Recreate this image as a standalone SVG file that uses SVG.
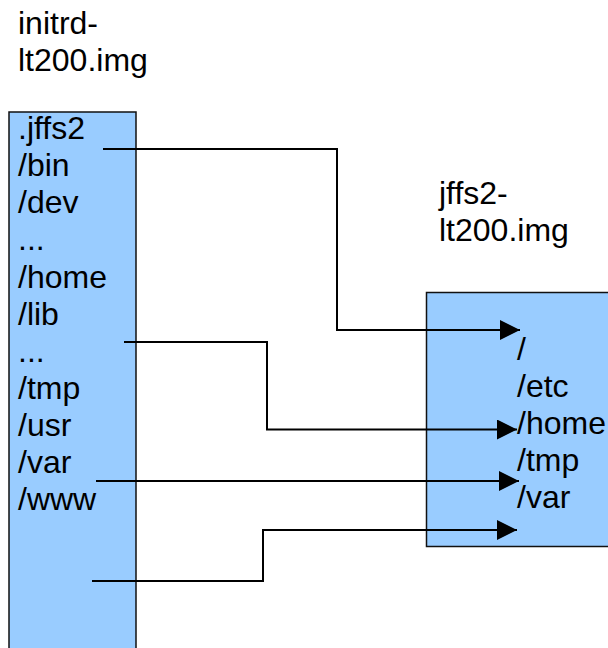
<svg xmlns="http://www.w3.org/2000/svg" width="608" height="648" viewBox="0 0 608 648">
  <defs>
    <style>
      .lbl { font-family: "Liberation Sans", Arial, sans-serif; font-size: 32px; fill: #000; }
      .box { fill: #99CCFF; stroke: #111; stroke-width: 1.5; }
      .conn { fill: none; stroke: #000; stroke-width: 2; marker-end: url(#arrow); }
      .plain { fill: none; stroke: #000; stroke-width: 2; }
    </style>
    <marker id="arrow" markerUnits="userSpaceOnUse" markerWidth="20" markerHeight="20" refX="20" refY="10" orient="auto" viewBox="0 0 20 20">
      <path d="M0,0 L20,10 L0,20 z" fill="#000"/>
    </marker>
  </defs>
  <rect width="608" height="648" fill="#fff"/>

  <g id="initrd-label">
    <text class="lbl" x="18" y="34">initrd-</text>
    <text class="lbl" x="18" y="71">lt200.img</text>
  </g>

  <g id="initrd-box">
    <rect class="box" x="9" y="112" width="127" height="560"/>
    <text class="lbl" x="18" y="139">.jffs2</text>
    <text class="lbl" x="18" y="176">/bin</text>
    <text class="lbl" x="18" y="213">/dev</text>
    <text class="lbl" x="18" y="250">...</text>
    <text class="lbl" x="18" y="288">/home</text>
    <text class="lbl" x="18" y="325">/lib</text>
    <text class="lbl" x="18" y="362">...</text>
    <text class="lbl" x="18" y="399">/tmp</text>
    <text class="lbl" x="18" y="436">/usr</text>
    <text class="lbl" x="18" y="473">/var</text>
    <text class="lbl" x="18" y="510">/www</text>
  </g>

  <g id="jffs2-label">
    <text class="lbl" x="439" y="204">jffs2-</text>
    <text class="lbl" x="439" y="241">lt200.img</text>
  </g>

  <g id="jffs2-box">
    <rect class="box" x="426.5" y="292.5" width="200" height="254"/>
    <text class="lbl" x="517" y="360">/</text>
    <text class="lbl" x="517" y="397">/etc</text>
    <text class="lbl" x="517" y="434">/home</text>
    <text class="lbl" x="517" y="471">/tmp</text>
    <text class="lbl" x="517" y="508">/var</text>
  </g>

  <g id="connectors">
    <path class="conn" d="M103,149 H337 V330 H520"/>
    <path class="conn" d="M124,342 H267 V429.5 H517"/>
    <path class="conn" d="M96,481 H519"/>
    <path class="conn" d="M92,581 H263 V530 H517"/>
  </g>
</svg>
